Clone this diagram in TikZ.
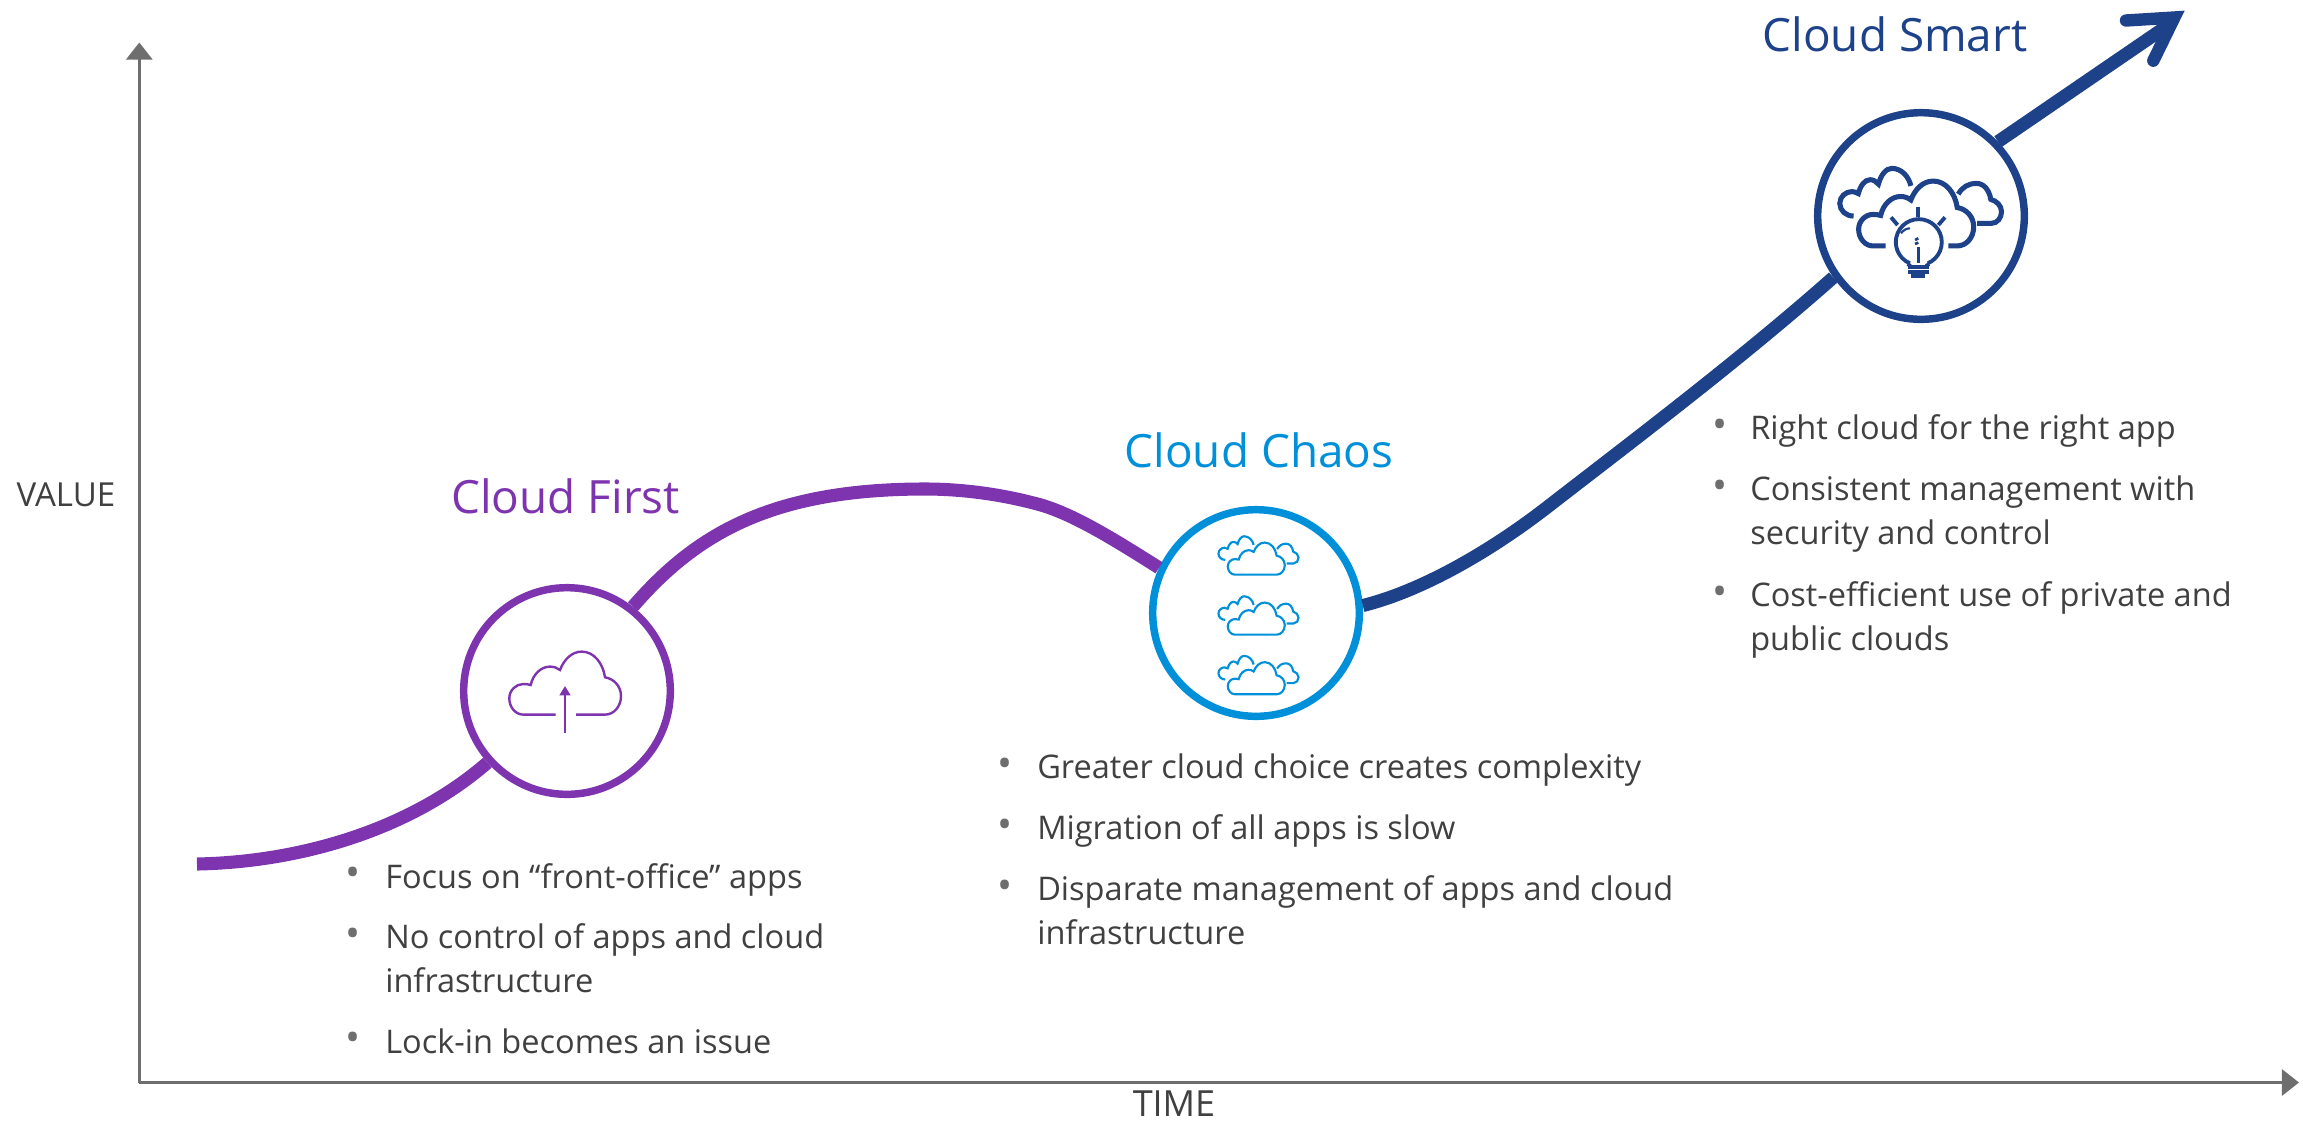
\documentclass[tikz,border=0pt]{standalone}
\usepackage{fontspec}
\setmainfont{Open Sans}
\usetikzlibrary{arrows.meta}
\definecolor{firstcol}{RGB}{126,52,174}
\definecolor{chaoscol}{RGB}{0,144,218}
\definecolor{smartcol}{RGB}{29,66,138}
\definecolor{textcol}{RGB}{64,64,64}
\definecolor{axiscol}{RGB}{110,110,110}
\tikzset{
  stage/.style={draw=#1,circle,line width=5.6pt,minimum size=155pt,inner sep=0pt},
  curve/.style={draw=#1,line width=9.8pt},
  title/.style={text=#1,font=\fontsize{34.4}{40}\selectfont,inner sep=0pt},
  axisline/.style={draw=axiscol,line width=2.25pt,-{Triangle[length=12.8pt,width=19.5pt]}},
  axislabel/.style={text=textcol,font=\fontsize{24.8}{30}\selectfont,inner sep=0pt},
  bullettext/.style={text=textcol,font=\fontsize{24.4}{33}\selectfont,anchor=west,align=left,inner sep=0pt},
  bulletdot/.style={text=axiscol,font=\fontsize{30}{33}\selectfont,inner sep=0pt},
  icon/.style={draw=#1,yscale=-1},
  pics/cloudfront/.style 2 args={code={
    \draw (#1,31.3) -- (-41.7,31.3) .. controls (-49.5,31.3) and (-55.7,24) .. (-55.7,15) .. controls (-55.7,7) and (-49,0.7) .. (-41.7,0.7) .. controls (-39,0.7) and (-36.5,1) .. (-34.3,1.7) .. controls (-32,-9) and (-24,-16.7) .. (-15,-16.7) .. controls (-11,-16.7) and (-8,-15.5) .. (-5,-13.3) .. controls (-1,-24) and (7,-31.7) .. (16.7,-31.7) .. controls (29,-31.7) and (38,-20) .. (40,-6) .. controls (49,-4.5) and (56,3) .. (56,12.7) .. controls (56,23) and (49,31.3) .. (40,31.3) -- (#2,31.3);
  }},
  pics/cloudback/.style={code={
    \draw (-60.6,2.3) .. controls (-68,2.3) and (-74,-3) .. (-74,-10) .. controls (-74,-16.5) and (-68.5,-21.5) .. (-62,-21.5) .. controls (-60,-21.5) and (-58,-20.5) .. (-56,-19.5) .. controls (-54,-27) and (-50,-33) .. (-44.5,-33) .. controls (-41,-33) and (-38.5,-31) .. (-36.5,-28.7) .. controls (-34,-38) and (-29,-44) .. (-23.5,-44) .. controls (-14,-44) and (-7,-36) .. (-5,-27);
    \draw (41,-19) .. controls (45,-26) and (51,-29.4) .. (58.7,-29.4) .. controls (66,-29.4) and (71,-23) .. (72.6,-13.9) .. controls (78,-12.5) and (83,-8) .. (83,-2) .. controls (83,4) and (79,9.4) .. (73,9.4) -- (59.4,9.4);
  }},
}
\begin{document}
\begin{tikzpicture}[x=0.75pt,y=0.75pt,yscale=-1,xscale=1]
\useasboundingbox (0,0) rectangle (2303,1122);

%Axes
\coordinate (origin) at (139.3,1082.5);
\coordinate (valueend) at (139.3,42.5);
\coordinate (timeend) at (2299,1082.5);
\draw[axisline] (origin) -- (valueend);
\draw[axisline] (origin) -- (timeend);
\node[axislabel] (valuelabel) at (66,495) {VALUE};
\node[axislabel,font=\fontsize{27}{30}\selectfont] (timelabel) at (1174,1104) {TIME};

%Stages
\node[stage=firstcol] (first) at (567,691) {};
\node[stage=chaoscol] (chaos) at (1256,613) {};
\node[stage=smartcol] (smart) at (1921,216) {};

%Curves
\coordinate (start) at (197,864);
\draw[curve=firstcol] (start) .. controls (300,862) and (410,830) .. (first.222);
\draw[curve=firstcol] (first.52) .. controls (695,535) and (770,489) .. (925,489) .. controls (965,489) and (1005,495) .. (1041,505) .. controls (1075,515) and (1115,540) .. (chaos.155);
\draw[curve=smartcol] (chaos.4) .. controls (1425,590) and (1495,548) .. (1550,505) .. controls (1630,443) and (1740,360) .. (smart.215);

%Arrow
\coordinate (shaftend) at (2170,24);
\coordinate (arrowtip) at (2174.4,17.5);
\coordinate (barbtop) at (2126,20.5);
\coordinate (barbside) at (2153.3,60.7);
\draw[curve=smartcol] (smart.44) -- (shaftend);
\draw[curve=smartcol,line width=9.3pt,line cap=round,line join=miter] (barbtop) -- (arrowtip) -- (barbside);

%Cloud First icon
\pic[icon=firstcol,line width=1.8pt] at (565,683.3) {cloudfront={-9.3}{11}};
\draw[draw=firstcol,line width=1.8pt,-{Triangle[length=7pt,width=8pt]}] (565,733.3) -- (565,686);

%Cloud Chaos icon
\foreach \y in {558.7,618.7,678.3}{
  \pic[icon=chaoscol,line width=1.6pt,scale=0.51] at (1256.2,\y) {cloudfront={0}{0}};
  \pic[icon=chaoscol,line width=1.6pt,scale=0.51] at (1256.2,\y) {cloudback};
}

%Cloud Smart icon
\pic[icon=smartcol,line width=3.8pt,scale=1.03] at (1916,213.7) {cloudfront={-29.4}{31.4}};
\pic[icon=smartcol,line width=3.8pt,scale=1.03] at (1916,213.7) {cloudback};
\begin{scope}[shift={(1918.3,243.3)},draw=smartcol,line width=2.9pt]
  \draw (-8.5,20) arc[start angle=113,end angle=427,radius=23];
  \draw (-8.5,20) -- (-10,23.3);
  \draw (8.5,20) -- (10,23.3);
  \draw (0,-36.7) -- (0,-26.7);
  \draw (-27.3,-26) -- (-20.7,-18.3);
  \draw (26.7,-26) -- (20,-18.3);
  \draw (-10.3,23.3) -- (10.3,23.3);
  \draw (-10.3,28.3) -- (10.3,28.3);
  \draw (-7,32.7) -- (7,32.7);
  \draw[line width=2pt] (0,19.3) -- (0,3.3);
  \draw[line width=2pt] (-3.3,-3.3) -- (0,-5);
  \draw[line width=2pt] (-3.3,0.7) -- (0,-0.7);
  \draw[line width=1.6pt] (-17.3,-10) .. controls (-15,-13) and (-12,-15) .. (-8.3,-15);
\end{scope}

%Titles
\node[title=firstcol] (firsttitle) at (565.6,496) {Cloud First};
\node[title=chaoscol] (chaostitle) at (1259,450) {Cloud Chaos};
\node[title=smartcol] (smarttitle) at (1895,34) {Cloud Smart};

%Cloud First points
\node[bulletdot] (firstdota) at (353,877) {•};
\node[bullettext] (firsta) at (385,879.5) {Focus on “front-office” apps};
\node[bulletdot] (firstdotb) at (353,938) {•};
\node[bullettext] (firstb) at (385,958) {No control of apps and cloud\\infrastructure};
\node[bulletdot] (firstdotc) at (353,1042) {•};
\node[bullettext] (firstc) at (385,1041.5) {Lock-in becomes an issue};

%Cloud Chaos points
\node[bulletdot] (chaosdota) at (1005,768) {•};
\node[bullettext] (chaosa) at (1037,770) {Greater cloud choice creates complexity};
\node[bulletdot] (chaosdotb) at (1005,829) {•};
\node[bullettext] (chaosb) at (1037,831) {Migration of all apps is slow};
\node[bulletdot] (chaosdotc) at (1005,890) {•};
\node[bullettext] (chaosc) at (1037,910) {Disparate management of apps and cloud\\infrastructure};

%Cloud Smart points
\node[bulletdot] (smartdota) at (1720,429) {•};
\node[bullettext] (smarta) at (1750,430.5) {Right cloud for the right app};
\node[bulletdot] (smartdotb) at (1720,490) {•};
\node[bullettext] (smartb) at (1750,514) {Consistent management with\\security and control};
\node[bulletdot] (smartdotc) at (1720,596) {•};
\node[bullettext] (smartc) at (1750,620) {Cost-efficient use of private and\\public clouds};
\end{tikzpicture}
\end{document}
